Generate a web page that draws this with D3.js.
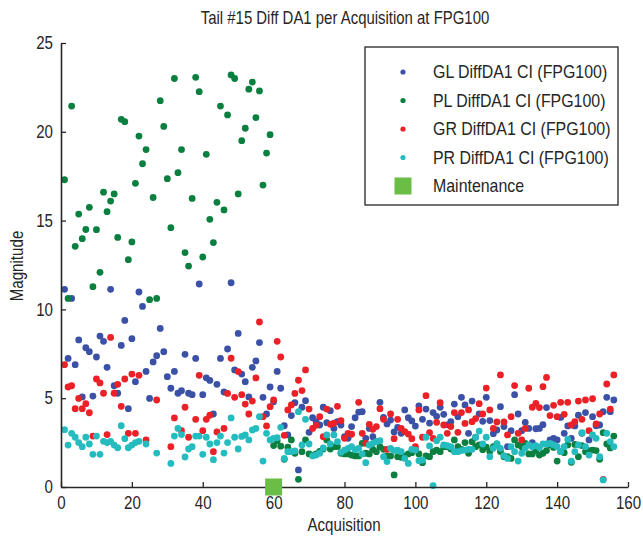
<!DOCTYPE html>
<html><head><meta charset="utf-8">
<script src="https://cdn.jsdelivr.net/npm/d3@7"></script>
<style>
body{margin:0;background:#fff;}
text{font-family:"Liberation Sans",Arial,sans-serif;fill:#262626;}
</style></head>
<body><svg id="c" width="643" height="541"></svg>
<script>
// Acquisition numbers 1..156, values per series (null = no point)
const glDiff = [11.13,7.24,10.62,6.89,8.28,5.07,7.84,7.62,5.12,7.32,
8.5,8.2,6.74,11.13,5.7,5.28,7.97,9.38,4.41,8.35,
5.93,10.98,10.17,6.51,4.99,7.04,7.39,8.93,7.62,6.21,
5.56,6.51,5.28,5.42,7.47,5.28,5.2,7.24,11.43,5.2,
6.15,6.0,4.11,5.78,7.24,5.35,7.77,11.5,6.59,8.65,
6.36,5.93,5.07,6.74,7.1,8.13,5.05,4.11,5.63,4.8,
6.51,5.56,3.45,2.93,4.02,4.75,0.96,4.49,4.86,3.08,
3.9,3.68,3.49,4.49,3.62,4.3,3.3,3.68,3.49,2.83,
2.74,3.4,3.9,4.22,4.24,2.74,3.3,2.83,2.55,4.77,
3.92,3.55,3.77,3.1,3.36,3.02,4.34,3.9,3.72,3.43,
4.56,3.81,4.39,3.6,4.19,3.98,4.49,4.09,3.5,3.68,
4.67,3.96,5.05,4.62,3.02,4.84,2.8,4.11,3.7,5.05,
3.74,3.0,3.21,4.52,3.4,2.27,3.17,5.2,4.11,3.17,
3.64,3.3,2.5,3.28,3.3,3.51,4.47,2.65,2.74,2.65,
3.92,3.02,3.44,2.74,3.44,4.04,3.02,4.19,2.65,3.96,
3.45,3.49,4.24,5.05,4.24,4.9];

const plDiff = [17.3,10.62,21.45,13.55,15.37,13.98,14.5,15.75,11.28,14.49,
12.09,16.6,15.5,16.1,16.5,14.05,20.7,20.57,12.8,13.8,
17.1,19.76,18.2,19.0,10.55,16.3,10.62,21.75,20.3,17.36,
14.6,23.0,17.7,19.0,13.2,12.44,16.25,23.07,22.26,12.95,
18.73,15.07,13.76,16.03,21.45,15.6,20.95,23.2,23.0,16.5,
19.5,20.2,22.4,22.8,20.8,22.3,17.0,18.8,19.84,2.33,
2.6,2.3,1.56,2.24,2.65,1.9,0.43,1.99,2.65,1.86,
1.8,1.86,2.0,2.14,2.65,2.14,2.27,2.27,1.9,1.86,
1.86,1.8,1.75,1.75,2.46,1.9,1.86,2.12,1.99,2.27,
2.12,1.75,1.75,0.68,1.71,1.67,1.75,1.86,1.93,2.12,
1.86,1.37,1.75,1.71,1.99,2.08,1.99,2.27,2.27,2.14,
2.65,2.27,2.12,2.5,1.9,2.55,2.27,2.37,2.1,2.24,
2.0,2.27,2.42,2.0,1.71,1.71,1.61,2.65,2.37,2.27,
2.46,1.86,1.86,2.05,1.8,1.9,2.05,2.37,2.23,1.46,
1.99,1.93,2.37,1.39,2.4,1.71,2.33,1.99,2.05,2.08,
2.05,1.56,3.06,2.42,2.2,2.87];

const grDiff = [6.89,5.63,5.7,4.41,4.99,4.41,4.69,4.18,2.87,6.08,
5.86,5.28,2.95,8.42,5.28,5.78,4.54,6.08,3.02,6.36,
3.02,6.29,null,2.65,null,null,4.9,null,null,null,
2.27,3.89,null,3.17,4.49,2.8,null,3.81,6.29,3.17,
3.81,4.04,1.99,3.1,null,3.3,5.27,7.25,5.05,6.5,
5.2,4.67,4.11,4.84,6.14,9.29,3.96,3.44,4.52,4.9,
8.2,7.32,2.91,4.34,4.62,5.27,6.01,5.43,6.59,4.39,
3.3,3.47,3.96,2.83,4.39,3.53,3.59,4.54,3.74,2.74,
3.02,2.97,null,4.77,3.02,2.46,3.53,3.25,3.4,4.41,
3.81,2.12,4.11,2.72,3.81,3.3,3.12,2.98,2.72,2.27,
4.34,2.8,5.14,3.06,2.74,3.64,4.75,3.49,3.02,3.4,
4.19,3.08,4.19,3.58,4.34,3.68,3.85,4.69,4.11,5.57,
4.34,3.3,3.66,6.31,3.66,2.93,3.96,5.71,3.02,2.65,
3.3,5.56,4.49,4.71,4.47,5.65,6.17,4.02,4.6,3.96,
4.77,4.09,4.77,3.49,3.68,4.84,3.81,4.9,3.17,4.97,
3.55,4.11,0.43,5.8,4.39,6.31];

const prDiff = [3.23,2.36,3.02,2.8,2.5,2.27,2.8,2.42,1.84,2.87,
1.84,2.57,2.5,2.57,2.36,2.21,3.45,2.72,2.21,2.36,
2.5,2.57,null,2.42,null,null,1.91,null,null,null,
1.33,2.87,3.3,2.95,1.69,2.14,2.27,2.87,2.87,1.84,
2.8,2.42,1.54,2.5,2.87,1.91,2.5,3.89,2.8,2.14,
2.85,2.93,2.65,3.21,3.3,3.96,1.46,3.02,2.65,2.74,
2.78,3.36,1.61,1.99,1.99,2.03,4.24,2.37,3.81,2.42,
1.75,1.8,1.9,2.2,2.93,2.42,2.93,2.55,1.95,2.08,
2.18,2.27,2.1,2.18,1.86,1.37,2.37,2.46,2.55,2.61,
1.71,1.43,2.18,2.05,2.08,1.99,1.61,1.33,2.12,2.08,
1.48,1.52,2.8,2.31,0.08,2.6,2.8,2.37,2.33,2.27,
1.99,1.99,2.05,2.08,2.12,2.12,2.8,3.15,2.42,2.8,
1.71,2.18,2.42,2.18,1.77,1.61,2.27,1.99,1.46,1.9,
2.18,2.37,2.27,2.33,2.23,2.42,2.42,2.46,2.37,2.27,
1.99,2.27,2.68,1.46,1.99,2.37,3.06,2.27,1.8,2.93,
2.74,1.71,0.4,3.02,2.55,2.27];

const seriesNames = ["GL DiffDA1 CI (FPG100)","PL DiffDA1 CI (FPG100)","GR DiffDA1 CI (FPG100)","PR DiffDA1 CI (FPG100)"];
const seriesColors = ["#3a51a6","#0b7f3f","#ec2027","#25bcbf"];
const maintenance = [60];
const maintenanceLabel = "Maintenance";
const maintenanceColor = "#6abd45";
const xTicks = [0,20,40,60,80,100,120,140,160];
const yTicks = [0,5,10,15,20,25];

const allSeries = [glDiff, plDiff, grDiff, prDiff];

const svg = d3.select("#c");
const x = d3.scaleLinear().domain([0,160]).range([61,628]);
const y = d3.scaleLinear().domain([0,25]).range([487,43]);

// narrow-looking text: regular sans squeezed horizontally
function label(g, px, py, str, size, anchor, sx, rot){
  return g.append("text")
    .attr("transform",`translate(${px},${py})${rot?` rotate(${rot})`:""} scale(${sx},1)`)
    .attr("text-anchor",anchor||"start").style("font-size",size+"px").text(str);
}

// points
allSeries.forEach((vals,si)=>{
  const pts = vals.map((v,i)=>({a:i+1,v:v})).filter(d=>d.v!==null);
  svg.append("g").selectAll("circle").data(pts).join("circle")
    .attr("cx",d=>x(d.a)).attr("cy",d=>y(d.v)).attr("r",3.4)
    .attr("fill",seriesColors[si]);
});

// axes
const xAxis = d3.axisBottom(x).tickValues(xTicks).tickSizeInner(-5).tickSizeOuter(0).tickPadding(9);
const yAxis = d3.axisLeft(y).tickValues(yTicks).tickSizeInner(-5).tickSizeOuter(0).tickPadding(7);
const gx = svg.append("g").attr("transform","translate(0,487)").call(xAxis);
const gy = svg.append("g").attr("transform","translate(61,0)").call(yAxis);
[gx,gy].forEach(g=>{
  g.select(".domain").attr("stroke","#262626").attr("stroke-width",1.6);
  g.selectAll(".tick line").attr("stroke","#262626").attr("stroke-width",1.3);
  g.selectAll(".tick text").style("font-size","18px").attr("fill","#262626")
   .style("font-family",'"Liberation Sans",Arial,sans-serif');
});
gx.selectAll(".tick text").attr("transform","scale(0.84,1)").attr("x",0);
gy.selectAll(".tick text").attr("transform","translate(-8,0) scale(0.84,1)").attr("x",0);

// maintenance markers
svg.append("g").selectAll("rect").data(maintenance).join("rect")
  .attr("x",d=>x(d)-8.5).attr("y",y(0)-8.5).attr("width",17).attr("height",17)
  .attr("fill",maintenanceColor);

// titles
label(svg,345,24,"Tail #15 Diff DA1 per Acquisition at FPG100",18,"middle",0.83);
label(svg,344,531,"Acquisition",18,"middle",0.84);
label(svg,23,266,"Magnitude",18,"middle",0.84,-90);

// legend
const lg = svg.append("g");
lg.append("rect").attr("x",365).attr("y",47).attr("width",253).attr("height",158)
  .attr("fill","#fff").attr("stroke","#262626").attr("stroke-width",1.3);
const rowY = d3.scalePoint().domain(d3.range(5)).range([72,186]);
seriesNames.forEach((n,i)=>{
  lg.append("circle").attr("cx",403).attr("cy",rowY(i)).attr("r",2.6).attr("fill",seriesColors[i]);
  label(lg,433,rowY(i)+6,n,17.5,"start",0.91);
});
lg.append("rect").attr("x",403-8.5).attr("y",rowY(4)-8.5).attr("width",17).attr("height",17).attr("fill",maintenanceColor);
label(lg,433,rowY(4)+6,maintenanceLabel,17.5,"start",0.91);
</script></body></html>
